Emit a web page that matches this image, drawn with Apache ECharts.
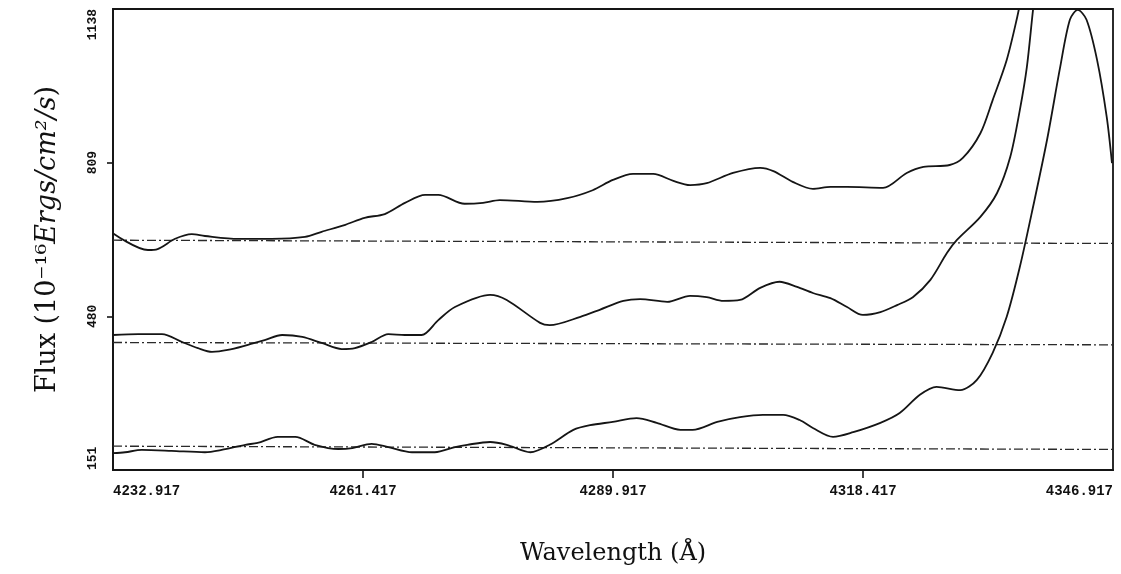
<!DOCTYPE html>
<html>
<head>
<meta charset="utf-8">
<script src="https://cdn.jsdelivr.net/npm/echarts@6/dist/echarts.min.js"></script>
<style>
html,body{margin:0;padding:0;background:#fff;}
#chart{width:1121px;height:574px;}
</style>
</head>
<body>
<div id="chart"></div>
<script>
// Tick values / labels
const xTicks = [4232.917, 4261.417, 4289.917, 4318.417, 4346.917];
const yTicks = [151, 480, 809, 1138];

// Upper spectrum: [wavelength, flux]
const upperWave = [4232.9,4236.9,4238.0,4240.0,4241.9,4243.4,4247.2,4251.0,4254.8,4256.7,4259.4,4261.6,4263.9,4266.2,4268.5,4270.0,4273.0,4275.1,4277.0,4281.3,4284.7,4287.6,4289.9,4292.2,4294.5,4296.8,4298.7,4300.6,4303.6,4306.7,4308.2,4310.4,4312.7,4314.7,4316.6,4320.7,4323.4,4325.3,4328.3,4329.8,4331.8,4333.2,4334.8,4336.0,4336.5];
const upperFlux = [658,622,624,646,656,652,646,646,650,661,676,691,699,723,740,740,721,723,729,725,733,750,772,785,785,770,761,765,787,798,791,768,753,757,757,755,787,800,804,819,872,943,1029,1121,1168];

// Middle spectrum
const middleWave = [4232.9,4235.8,4238.5,4240.8,4242.6,4244.2,4246.0,4248.3,4250.2,4252.2,4254.5,4256.7,4259.0,4260.5,4262.4,4264.3,4266.2,4268.1,4270.0,4271.9,4275.9,4277.8,4281.6,4282.7,4286.2,4288.4,4291.1,4293.0,4296.1,4298.7,4300.6,4302.5,4304.4,4306.7,4308.9,4310.9,4312.7,4314.7,4316.6,4318.4,4320.4,4322.3,4324.1,4326.1,4328.0,4329.1,4331.8,4333.7,4335.2,4336.3,4337.1,4337.8,4338.1];
const middleFlux = [440,442,442,425,412,404,408,419,429,440,436,423,410,412,425,442,440,440,472,500,526,515,466,461,479,494,513,517,511,524,521,513,515,541,554,543,530,519,500,483,489,504,521,558,616,643,693,744,821,922,1014,1136,1179];

// Lower spectrum
const lowerWave = [4232.9,4234.3,4236.2,4239.6,4243.4,4245.3,4248.0,4249.4,4251.7,4253.7,4255.9,4258.6,4260.2,4262.4,4264.3,4267.0,4269.6,4271.9,4273.3,4275.9,4277.8,4280.5,4282.7,4285.4,4287.3,4289.9,4292.6,4294.9,4297.6,4299.0,4301.8,4304.4,4307.0,4309.3,4311.2,4312.7,4315.0,4317.3,4320.4,4322.6,4324.9,4326.8,4329.5,4331.4,4333.2,4334.8,4336.3,4337.8,4339.4,4340.9,4342.0,4342.9,4343.9,4345.1,4346.2,4346.8];
const lowerFlux = [187,189,194,192,189,194,205,209,222,222,205,196,198,207,200,189,189,200,205,211,205,189,205,237,247,254,262,252,237,237,254,264,269,269,258,241,222,232,252,273,312,329,322,344,402,479,586,714,858,1014,1115,1136,1115,1029,907,808];

// Continuum reference levels (dash-dot): [start, end] flux
const baseWave = [4232.917, 4346.917];
const upperBase = [643, 636];
const middleBase = [424, 419];
const lowerBase = [202, 195];

const zip = (a, b) => a.map((v, i) => [v, b[i]]);

const curveStyle = {color: '#151515', width: 1.8};
const dashStyle = {color: '#2a2a2a', width: 1.3, type: [9, 3, 2, 3]};

function curve(name, w, f) {
  return {name, type: 'line', data: zip(w, f), smooth: 0.3, showSymbol: false,
    lineStyle: curveStyle, clip: true, z: 3};
}
function base(name, f) {
  return {name, type: 'line', data: zip(baseWave, f), showSymbol: false,
    lineStyle: dashStyle, z: 2};
}

const chart = echarts.init(document.getElementById('chart'));
chart.setOption({
  animation: false,
  backgroundColor: '#fff',
  grid: {left: 113, right: 8, top: 9, bottom: 104, show: true,
    borderColor: '#151515', borderWidth: 1.8, backgroundColor: 'transparent'},
  xAxis: {
    type: 'value', min: xTicks[0], max: xTicks[xTicks.length - 1],
    name: 'Wavelength (Å)', nameLocation: 'middle', nameGap: 72,
    nameTextStyle: {fontFamily: 'DejaVu Serif', fontSize: 24, color: '#111'},
    axisLine: {show: true, lineStyle: {color: '#151515', width: 1.8}},
    axisTick: {show: true, customValues: xTicks.slice(1, -1), length: 8, inside: false,
      lineStyle: {color: '#151515', width: 1.6}},
    axisLabel: {customValues: xTicks, formatter: v => v.toFixed(3), margin: 14,
      fontFamily: 'Liberation Mono', fontWeight: 'bold', fontSize: 14, color: '#111',
      alignMinLabel: 'left', alignMaxLabel: 'right'},
    splitLine: {show: false}
  },
  yAxis: {
    type: 'value', min: yTicks[0], max: yTicks[yTicks.length - 1],
    name: '{a|Flux (10⁻¹⁶}{i|Ergs/cm²/s}{a|)}', nameLocation: 'middle', nameGap: 52, nameRotate: 90,
    nameTextStyle: {rich: {
      a: {fontFamily: 'DejaVu Serif', fontSize: 27, color: '#111'},
      i: {fontFamily: 'DejaVu Serif', fontStyle: 'italic', fontSize: 27, color: '#111'}
    }},
    axisLine: {show: true, lineStyle: {color: '#151515', width: 1.8}},
    axisTick: {show: true, customValues: yTicks.slice(1, -1), length: 6, inside: false,
      lineStyle: {color: '#151515', width: 1.6}},
    axisLabel: {customValues: yTicks, formatter: v => String(v), rotate: 90, margin: 14,
      fontFamily: 'Liberation Mono', fontWeight: 'bold', fontSize: 13, color: '#111',
      alignMinLabel: 'left', alignMaxLabel: 'right'},
    splitLine: {show: false}
  },
  series: [
    base('upperBase', upperBase), base('middleBase', middleBase), base('lowerBase', lowerBase),
    curve('upper', upperWave, upperFlux), curve('middle', middleWave, middleFlux), curve('lower', lowerWave, lowerFlux)
  ]
});
</script>
</body>
</html>
